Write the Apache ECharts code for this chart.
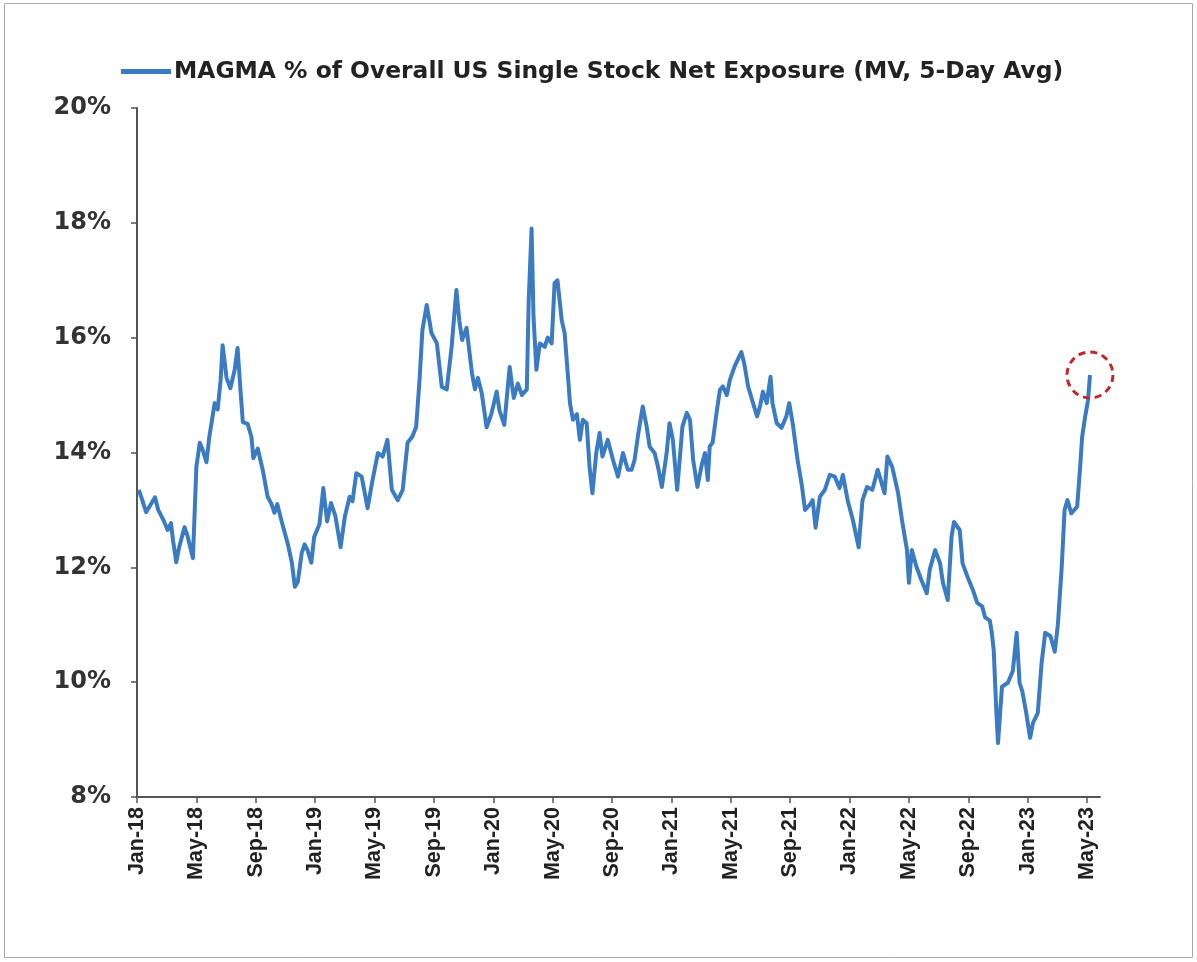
<!DOCTYPE html>
<html>
<head>
<meta charset="utf-8">
<title>MAGMA % of Overall US Single Stock Net Exposure</title>
<script src="https://cdn.jsdelivr.net/npm/echarts@6/dist/echarts.min.js"></script>
<style>
  html, body { margin: 0; padding: 0; background: #ffffff; }
  #chart { width: 1197px; height: 962px; }
</style>
</head>
<body>
<div id="chart"></div>
<script>
// Observation dates (YYYY-MM-DD) and the 5-day average share, in percent
const obsDates = [
  '2018-01-05','2018-01-12','2018-01-20','2018-02-07','2018-02-13','2018-02-23','2018-03-03','2018-03-10','2018-03-14','2018-03-21',
  '2018-03-27','2018-04-07','2018-04-13','2018-04-24','2018-05-01','2018-05-08','2018-05-14','2018-05-22','2018-05-28','2018-06-08',
  '2018-06-14','2018-06-20','2018-06-24','2018-07-02','2018-07-10','2018-07-19','2018-07-25','2018-07-31','2018-08-05','2018-08-15',
  '2018-08-23','2018-08-27','2018-09-05','2018-09-15','2018-09-25','2018-10-03','2018-10-09','2018-10-15','2018-10-25','2018-11-06',
  '2018-11-14','2018-11-20','2018-11-26','2018-12-04','2018-12-10','2018-12-16','2018-12-24','2018-12-30',
  '2019-01-10','2019-01-18','2019-01-26','2019-02-03','2019-02-11','2019-02-21','2019-03-01','2019-03-11','2019-03-17','2019-03-25',
  '2019-04-05','2019-04-17','2019-04-27','2019-05-08','2019-05-18','2019-05-28','2019-06-06','2019-06-18','2019-06-28','2019-07-08',
  '2019-07-18','2019-07-26','2019-08-02','2019-08-08','2019-08-17','2019-08-27','2019-09-07','2019-09-17','2019-09-27','2019-10-07',
  '2019-10-17','2019-10-23','2019-10-29','2019-11-07','2019-11-18','2019-11-24','2019-11-30','2019-12-08','2019-12-18','2019-12-28',
  '2020-01-08','2020-01-14','2020-01-24','2020-02-04','2020-02-12','2020-02-20','2020-02-28','2020-03-09','2020-03-13','2020-03-19',
  '2020-03-23','2020-03-29','2020-04-05','2020-04-15','2020-04-21','2020-04-29','2020-05-05','2020-05-11','2020-05-20','2020-05-26',
  '2020-06-02','2020-06-06','2020-06-12','2020-06-20','2020-06-26','2020-07-02','2020-07-10','2020-07-16','2020-07-22','2020-07-30',
  '2020-08-06','2020-08-12','2020-08-23','2020-09-03','2020-09-13','2020-09-23','2020-10-03','2020-10-11','2020-10-17','2020-10-25',
  '2020-11-03','2020-11-11','2020-11-17','2020-11-27','2020-12-04','2020-12-12','2020-12-22','2020-12-28',
  '2021-01-04','2021-01-13','2021-01-24','2021-02-02','2021-02-08','2021-02-14','2021-02-22','2021-03-03','2021-03-09','2021-03-15',
  '2021-03-19','2021-03-25','2021-04-03','2021-04-09','2021-04-15','2021-04-23','2021-04-29','2021-05-09','2021-05-15','2021-05-23',
  '2021-05-29','2021-06-06','2021-06-16','2021-06-24','2021-06-30','2021-07-06','2021-07-14','2021-07-22','2021-07-26','2021-08-04',
  '2021-08-14','2021-08-24','2021-08-30','2021-09-06','2021-09-16','2021-09-25','2021-10-01','2021-10-11','2021-10-17','2021-10-23',
  '2021-11-01','2021-11-11','2021-11-21','2021-12-01','2021-12-11','2021-12-18','2021-12-28',
  '2022-01-08','2022-01-20','2022-01-28','2022-02-06','2022-02-16','2022-02-26','2022-03-02','2022-03-12','2022-03-18','2022-03-28',
  '2022-04-09','2022-04-17','2022-04-27','2022-05-01','2022-05-07','2022-05-17','2022-05-27','2022-06-07','2022-06-13','2022-06-24',
  '2022-07-04','2022-07-10','2022-07-20','2022-07-28','2022-08-02','2022-08-14','2022-08-20','2022-08-30','2022-09-10','2022-09-19',
  '2022-09-29','2022-10-05','2022-10-15','2022-10-19','2022-10-23','2022-10-29','2022-11-01','2022-11-09','2022-11-21','2022-12-01',
  '2022-12-09','2022-12-15','2022-12-21','2022-12-29',
  '2023-01-06','2023-01-12','2023-01-22','2023-01-30','2023-02-06','2023-02-16','2023-02-24','2023-03-02','2023-03-10','2023-03-16',
  '2023-03-22','2023-03-30','2023-04-11','2023-04-17','2023-04-21','2023-04-27','2023-05-03','2023-05-07'
];

const exposurePct = [
  13.35,13.17,12.96,13.22,13.00,12.82,12.65,12.77,12.48,12.09,
  12.35,12.70,12.55,12.16,13.75,14.17,14.05,13.83,14.27,14.86,
  14.75,15.26,15.87,15.30,15.12,15.44,15.82,15.10,14.53,14.50,
  14.27,13.90,14.07,13.70,13.23,13.10,12.95,13.10,12.77,12.40,
  12.08,11.66,11.75,12.25,12.40,12.30,12.08,12.53,
  12.75,13.38,12.80,13.12,12.90,12.35,12.88,13.23,13.15,13.64,
  13.58,13.03,13.52,13.99,13.93,14.22,13.35,13.17,13.35,14.17,
  14.28,14.45,15.26,16.13,16.57,16.08,15.90,15.14,15.10,15.84,
  16.83,16.30,15.96,16.17,15.38,15.10,15.30,15.03,14.44,14.67,
  15.06,14.73,14.48,15.49,14.95,15.20,15.00,15.10,16.66,17.90,
  16.37,15.44,15.90,15.84,16.00,15.90,16.95,17.00,16.30,16.08,
  15.32,14.86,14.57,14.67,14.22,14.57,14.51,13.75,13.29,13.99,
  14.34,13.93,14.22,13.87,13.58,13.99,13.70,13.70,13.87,14.34,
  14.80,14.45,14.10,13.99,13.75,13.40,13.99,14.51,
  14.22,13.35,14.45,14.69,14.57,13.87,13.40,13.81,13.99,13.52,
  14.11,14.17,14.74,15.09,15.15,15.00,15.26,15.50,15.61,15.75,
  15.55,15.15,14.86,14.63,14.80,15.06,14.86,15.32,14.86,14.51,
  14.43,14.63,14.86,14.51,13.87,13.40,13.00,13.09,13.17,12.69,
  13.23,13.35,13.61,13.58,13.38,13.61,13.17,
  12.82,12.35,13.17,13.40,13.35,13.70,13.58,13.29,13.93,13.75,
  13.30,12.82,12.30,11.73,12.30,12.00,11.78,11.55,11.96,12.30,
  12.07,11.73,11.43,12.53,12.79,12.65,12.07,11.84,11.61,11.38,
  11.32,11.13,11.07,10.86,10.56,9.40,8.94,9.92,9.99,10.20,
  10.86,9.99,9.83,9.46,
  9.03,9.29,9.46,10.33,10.86,10.80,10.53,11.00,12.00,13.00,
  13.17,12.94,13.06,13.75,14.27,14.62,14.91,15.35
];

// Month labels every four months, starting January 2018
const tickLabels = ['Jan-18','May-18','Sep-18','Jan-19','May-19','Sep-19','Jan-20','May-20','Sep-20',
                    'Jan-21','May-21','Sep-21','Jan-22','May-22','Sep-22','Jan-23','May-23'];

const seriesName = 'MAGMA % of Overall US Single Stock Net Exposure (MV, 5-Day Avg)';

// Convert a date string to a fractional month count since Jan 2018
function monthPos(s) {
  const [y, m, d] = s.split('-').map(Number);
  const dim = new Date(y, m, 0).getDate();
  return (y - 2018) * 12 + (m - 1) + (d - 1) / dim;
}

const points = obsDates.map((d, i) => [monthPos(d), exposurePct[i]]);
const tickPos = tickLabels.map((_, i) => i * 4);
const lastPoint = points[points.length - 1];

const font = '"Liberation Sans", Arial, sans-serif';
const wideFont = '"DejaVu Sans", Verdana, sans-serif';
const chart = echarts.init(document.getElementById('chart'));

chart.setOption({
  backgroundColor: '#ffffff',
  animation: false,
  graphic: [{
    type: 'rect',
    shape: { x: 4.5, y: 3.5, width: 1188, height: 954 },
    style: { fill: 'none', stroke: '#a8a8a8', lineWidth: 1 },
    silent: true
  }],
  legend: {
    data: [{ name: seriesName, icon: 'rect' }],
    left: 116,
    top: 55,
    itemWidth: 50,
    itemHeight: 5,
    itemGap: 4,
    textStyle: { fontFamily: wideFont, fontSize: 23.4, fontWeight: 'bold', color: '#222222', padding: [0, 0, 0, -2] }
  },
  grid: { left: 137, right: 97, top: 108, bottom: 165, containLabel: false },
  xAxis: {
    type: 'value',
    min: 0,
    max: 64.87,
    interval: 4,
    axisLine: { show: true, lineStyle: { color: '#555555', width: 2 } },
    axisTick: { show: true, length: 6, customValues: tickPos, lineStyle: { color: '#555555', width: 1.5 } },
    splitLine: { show: false },
    axisLabel: {
      customValues: tickPos,
      rotate: 90,
      margin: 10,
      fontFamily: font,
      fontSize: 21.5,
      fontWeight: 'bold',
      color: '#222222',
      formatter: v => tickLabels[Math.round(v / 4)] || ''
    }
  },
  yAxis: {
    type: 'value',
    min: 8,
    max: 20,
    interval: 2,
    axisLine: { show: true, lineStyle: { color: '#555555', width: 2 } },
    axisTick: { show: true, length: 6, lineStyle: { color: '#555555', width: 1.5 } },
    splitLine: { show: false },
    axisLabel: {
      margin: 26,
      fontFamily: wideFont,
      fontSize: 24,
      fontWeight: 'bold',
      color: '#333333',
      formatter: '{value}%'
    }
  },
  series: [{
    name: seriesName,
    type: 'line',
    data: points,
    showSymbol: false,
    lineStyle: { color: '#3a7bc2', width: 4, join: 'round' },
    itemStyle: { color: '#3a7bc2' },
    markPoint: {
      symbol: 'circle',
      symbolSize: 46,
      silent: true,
      label: { show: false },
      itemStyle: { color: 'rgba(0,0,0,0)', borderColor: '#c0282c', borderWidth: 3, borderType: [7, 5] },
      data: [{ coord: lastPoint }]
    }
  }]
});
</script>
</body>
</html>
